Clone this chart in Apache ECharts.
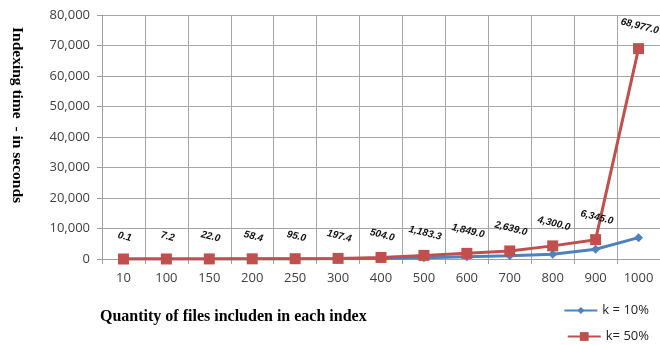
<!DOCTYPE html>
<html>
<head>
<meta charset="utf-8">
<script src="https://cdn.jsdelivr.net/npm/echarts@6/dist/echarts.min.js"></script>
<style>html,body{margin:0;padding:0;background:#fff;}#c{width:660px;height:345px;}</style>
</head>
<body>
<div id="c"></div>
<script>
const categories = ['10','100','150','200','250','300','400','500','600','700','800','900','1000'];
const k10 = [0, 2, 8, 25, 40, 80, 200, 420, 750, 1100, 1550, 3200, 7000];
const k50 = [0.1, 7.2, 22.0, 58.4, 95.0, 197.4, 504.0, 1183.3, 1849.0, 2639.0, 4300.0, 6345.0, 68977.0];
const yTicks = [0, 10000, 20000, 30000, 40000, 50000, 60000, 70000, 80000];

const chart = echarts.init(document.getElementById('c'), null, {renderer: 'canvas'});
const fmt = v => Number(v).toLocaleString('en-US', {minimumFractionDigits: 1, maximumFractionDigits: 1});
const legendText = {fontFamily: 'Open Sans', fontSize: 13, color: '#222'};
chart.setOption({
  animation: false,
  backgroundColor: '#fff',
  grid: {left: 102, right: 0, top: 15, bottom: 86, containLabel: false},
  xAxis: {
    type: 'category',
    data: categories,
    boundaryGap: true,
    axisLine: {show: true, lineStyle: {color: '#a0a0a0', width: 1}},
    axisTick: {show: true, length: 5, lineStyle: {color: '#a0a0a0'}},
    splitLine: {show: true, lineStyle: {color: '#a6a6a6', width: 1}},
    axisLabel: {color: '#404040', fontFamily: 'Open Sans', fontSize: 13, margin: 13}
  },
  yAxis: {
    type: 'value',
    min: 0, max: 80000, interval: 10000,
    axisLine: {show: true, lineStyle: {color: '#a0a0a0'}},
    axisTick: {show: true, length: 5, lineStyle: {color: '#a0a0a0'}},
    splitLine: {show: true, lineStyle: {color: '#a6a6a6', width: 1}},
    axisLabel: {color: '#404040', fontFamily: 'Open Sans', fontSize: 13, margin: 12,
      formatter: v => yTicks.includes(v) ? v.toLocaleString('en-US') : ''}
  },
  graphic: [{
    type: 'text',
    left: 9, top: 27,
    rotation: -Math.PI / 2,
    style: {text: 'Indexing time  - in seconds', font: 'bold 15.5px "Liberation Serif"', fill: '#000'}
  }, {
    type: 'text',
    left: 100, top: 309,
    style: {text: 'Quantity of files includen in each index', font: 'bold 16px "Liberation Serif"', fill: '#000'}
  }],
  legend: [{
    right: 6, top: 299,
    itemWidth: 33, itemHeight: 9,
    textStyle: legendText,
    data: ['k = 10%']
  }, {
    right: 6, top: 325,
    itemWidth: 33, itemHeight: 11,
    textStyle: legendText,
    data: ['k= 50%']
  }],
  series: [
    {
      name: 'k = 10%', type: 'line', data: k10,
      symbol: 'diamond', symbolSize: 9,
      lineStyle: {color: '#4F81BD', width: 3},
      itemStyle: {color: '#4F81BD'}
    },
    {
      name: 'k= 50%', type: 'line', data: k50,
      symbol: 'rect', symbolSize: 11,
      lineStyle: {color: '#C0504D', width: 3},
      itemStyle: {color: '#C0504D'},
      label: {show: true, position: 'top', distance: 12, rotate: -14,
        formatter: p => fmt(p.value),
        fontFamily: 'Liberation Sans', fontStyle: 'italic', fontWeight: 'bold', fontSize: 10, color: '#111'}
    }
  ]
});
</script>
</body>
</html>
